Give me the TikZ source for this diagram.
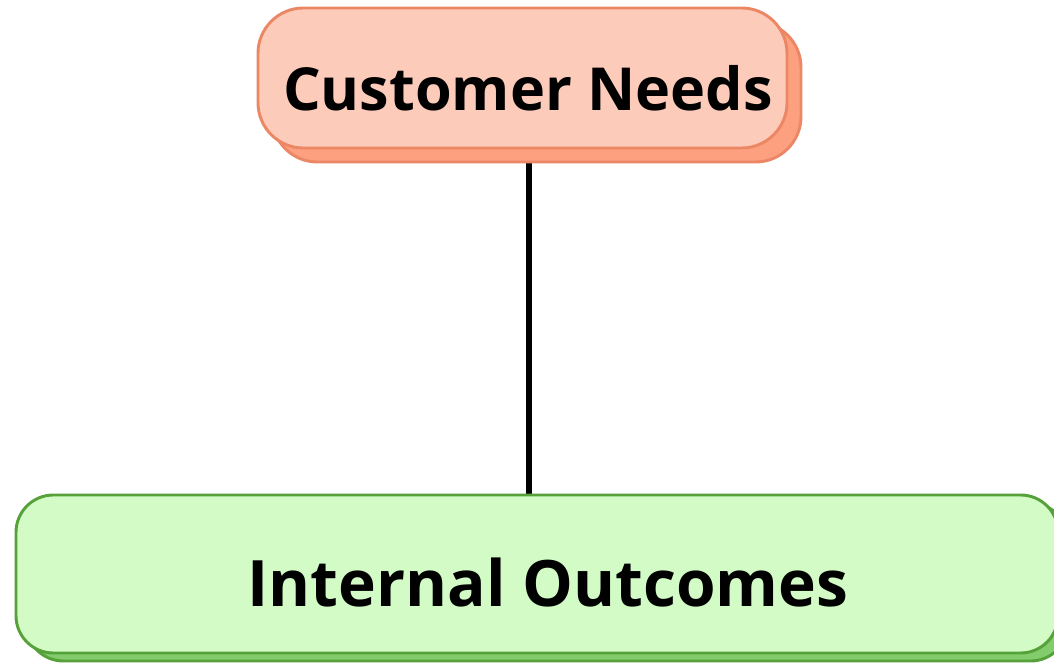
\documentclass[tikz,border=0pt]{standalone}
\usepackage{fontspec}
\setmainfont{Open Sans}
\definecolor{cnfill}{HTML}{FDCBBA}
\definecolor{cnback}{HTML}{FCA07F}
\definecolor{cnline}{HTML}{EC8766}
\definecolor{iofill}{HTML}{D3FBC6}
\definecolor{ioback}{HTML}{82CC6C}
\definecolor{ioline}{HTML}{56A13A}
\begin{document}
\begin{tikzpicture}[x=0.75pt,y=-0.75pt,
  box/.style={rounded corners=#1, line width=2.2pt},
  label/.style={inner sep=0pt}]
\useasboundingbox (0,0) rectangle (1054,663);
% connector runs behind both cards
\coordinate (cnb) at (529,148);
\coordinate (iot) at (529,495);
\draw[line width=4pt] (cnb) -- (iot);
% Customer Needs card with its offset backing
\draw[box=34pt, fill=cnback, draw=cnline] (272,22) rectangle (801,162);
\draw[box=34pt, fill=cnfill, draw=cnline] (258,8) rectangle (787,148);
% Internal Outcomes card with its offset backing
\draw[box=28pt, fill=ioback, draw=ioline] (26,503) rectangle (1068,661);
\draw[box=28pt, fill=iofill, draw=ioline] (16,495) rectangle (1058,653);
% labels
\node[label, font=\fontsize{44.5}{52}\selectfont\bfseries] (cn) at (528,88) {Customer Needs};
\node[label, font=\fontsize{48}{56}\selectfont\bfseries] (io) at (548,582) {Internal Outcomes};
\end{tikzpicture}
\end{document}
